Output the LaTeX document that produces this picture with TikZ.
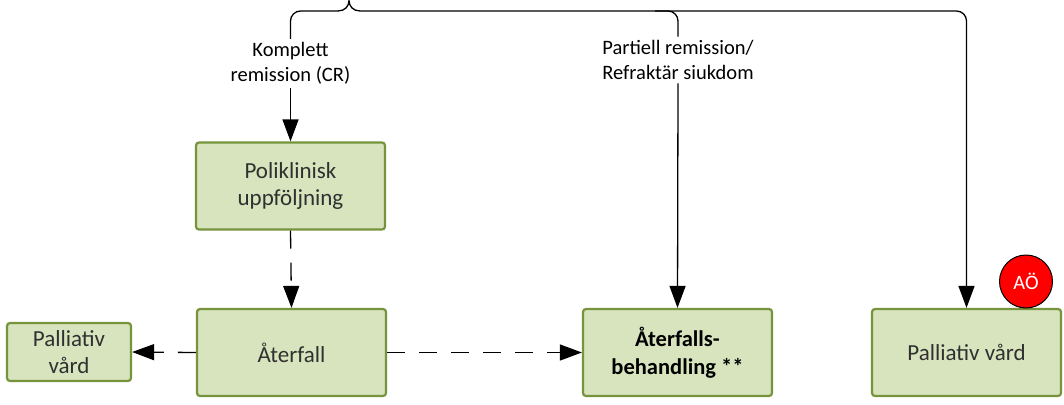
\documentclass[tikz,border=0pt]{standalone}
\usepackage{fontspec}
\setmainfont{Carlito}
\usetikzlibrary{arrows.meta}
\definecolor{boxfill}{HTML}{D7E4BD}
\definecolor{boxdraw}{HTML}{77933C}
\definecolor{txt}{HTML}{303030}
\definecolor{aored}{HTML}{FF0000}
\begin{document}
\begin{tikzpicture}[x=1pt,y=-1pt,
  box/.style={draw=boxdraw,fill=boxfill,line width=2.2pt,rounded corners=3pt,
    minimum width=189pt,minimum height=87pt,align=center,text=txt,
    font=\fontsize{23}{27.5}\selectfont,inner sep=2pt},
  lbl/.style={align=center,text=black,font=\fontsize{20.5}{25}\selectfont,inner sep=3.5pt},
  line/.style={draw=black,line width=1.3pt},
  arr/.style={line,-{Triangle[length=22pt,width=16pt]}},
  dline/.style={arr,dash pattern=on 18pt off 14pt}
]
\useasboundingbox (0,0) rectangle (1064,404);

\node[box] (poli) at (290.5,186) {Poliklinisk\\uppföljning};
\node[box] (aterfall) at (291.5,352.5) {Återfall};
\node[box,minimum width=124pt,minimum height=58pt] (pall1) at (69,352) {Palliativ\\vård};
\node[box,text=black,font=\fontsize{22.5}{27.5}\selectfont\bfseries] (aterb) at (677.5,352.5) {Återfalls-\\behandling **};
\node[box] (pall2) at (966.5,352.5) {Palliativ vård};
\node[circle,draw=black,line width=1pt,fill=aored,minimum size=53pt,inner sep=0pt,
  text=white,font=\fontsize{20.5}{24}\selectfont] (ao) at (1026,281.5) {AÖ};

\node[lbl] (cr) at (290.5,63.5) {Komplett\\remission (CR)};
\node[lbl] (pr) at (678,60) {Partiell remission/\\Refraktär siukdom};

\coordinate (tip) at (349,0.6);

% brace
\draw[line,rounded corners=10pt] (cr.north) |- (338,11);
\draw[line] (338,11) .. controls (345,11) and (349,6) .. (tip)
            .. controls (349,6) and (353,11) .. (360,11);
\draw[arr,rounded corners=10pt] (360,11) -| (pall2.north);
\draw[line,rounded corners=10pt] (655,11) -| (pr.north);

\draw[arr] (cr.south) -- (poli.north);
\draw[arr] (pr.south) -- (aterb.north);

\draw[dline] (poli.south) -- (aterfall.north);
\draw[dline] (aterfall.west) -- (pall1.east);
\draw[dline] (aterfall.east) -- (aterb.west);
\end{tikzpicture}
\end{document}
